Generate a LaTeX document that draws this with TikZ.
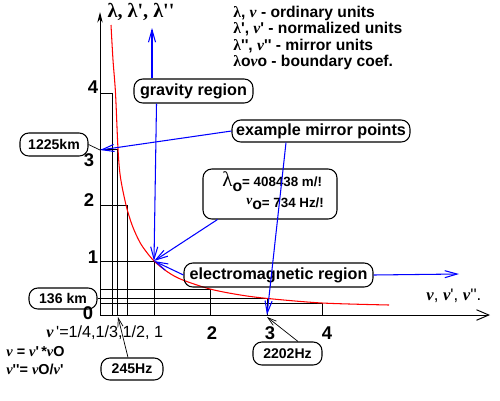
\documentclass[tikz,border=0pt]{standalone}
\usepackage{fontspec}
\setmainfont{Liberation Sans}[Ligatures=TeXOff]
\newfontfamily\grf{Liberation Serif}[Ligatures=TeXOff]
\usetikzlibrary{arrows.meta}
\newcommand\fs[1]{\fontsize{#1}{#1}\selectfont}
\newcommand\lm{{\grf λ}}
\newcommand\nv{{\grf\bfseries\itshape ν}}
\begin{document}
\begin{tikzpicture}[x=0.02cm,y=-0.02cm,
  bx/.style={draw, rounded corners=5pt, line width=0.6pt, inner sep=0pt, font=\bfseries\fs{9.2}},
  sbx/.style={bx, font=\bfseries\fs{8}},
  ln/.style={line width=0.55pt},
  barr/.style={blue, line width=0.6pt, -{Straight Barb[length=7pt,width=4pt]}},
  karr/.style={black, line width=0.4pt, -{Straight Barb[length=5pt,width=3pt]}},
  tk/.style={font=\bfseries\fs{10.5}},
  lg/.style={anchor=west, font=\bfseries\fs{8.9}, inner sep=0pt},
]
\useasboundingbox (0,0) rectangle (500,400);
% key points
\coordinate (O) at (100,315);
\coordinate (P1) at (154,261);
\coordinate (M1) at (100,150);
\coordinate (M2) at (267,315);
\coordinate (Gt) at (152,28);
\coordinate (Et) at (459,274);
\coordinate (Yt) at (100,12);
\coordinate (Xt) at (490,315);
\coordinate (T245) at (118,317);
\coordinate (T2202) at (267,317);
% grid rectangles under 1/x
\foreach \X/\Y in {112/93, 117/149, 127/205, 154/261, 210/289, 267/298.3, 322/303.3}
  \draw[ln] (100,\Y) -| (\X,315);
% red curve
\draw[red, line width=0.6pt] plot[smooth] coordinates {(111,25) (113,60) (115.5,93) (118,149)
  (120.4,177) (126,205) (131.6,223.7) (137.2,237) (142.8,247) (154,261) (168,272.2)
  (182,279.7) (210,289) (238,294.6) (266,298.3) (322,303) (389,305)};
% axes
\draw[ln, -{Stealth[length=6pt,width=3pt]}] (O) -- (Yt);
\draw[ln, -{Straight Barb[length=7pt,width=6pt]}] (O) -- (Xt);
% tick labels
\node[tk] (y4) at (93,87) {4};
\node[tk] (y3) at (89,160) {3};
\node[tk] (y2) at (89,200) {2};
\node[tk] (y1) at (93,257) {1};
\node[tk] (y0) at (88,313) {0};
\node[tk] (x2) at (212,333) {2};
\node[tk] (x3) at (270,333) {3};
\node[tk] (x4) at (327,333) {4};
\node[anchor=west, font=\fs{9.2}, inner sep=0pt] (xl) at (46,333) {\nv\,'=1/4,1/3,1/2, 1};
\node[anchor=west, font=\bfseries\fs{8.2}, inner sep=0pt] (f1) at (6,352) {\nv\ = \nv'\,*\nv O};
\node[anchor=west, font=\bfseries\fs{8.2}, inner sep=0pt] (f2) at (6,369) {\nv''= \nv O/\nv'};
% axis titles
\node[font=\bfseries\fs{11.5}, inner sep=0pt] (ylab) at (141,12) {\grf λ, λ', λ''};
\node[anchor=west, font=\fs{9.5}, inner sep=0pt] (xlab) at (426,296) {\nv, \nv', \nv''.};
% legend
\node[lg] (lg1) at (233,13) {\lm, \nv\ - ordinary units};
\node[lg] (lg2) at (233,29.5) {\lm', \nv' - normalized units};
\node[lg] (lg3) at (233,46) {\lm'', \nv'' - mirror units};
\node[lg] (lg4) at (233,62.5) {\lm o\nv o - boundary coef.};
% boxes
\node[bx, minimum width=2.38cm, minimum height=0.48cm] (grav) at (193.5,91) {gravity region};
\node[bx, minimum width=3.56cm, minimum height=0.44cm] (mir) at (321,131) {example mirror points};
\node[sbx, minimum width=1.36cm, minimum height=0.46cm] (k1225) at (54,144.5) {1225km};
\node[bx, minimum width=2.68cm, minimum height=1.0cm] (lam) at (270,194) {};
\node[anchor=west, font=\bfseries\fs{7.6}, inner sep=0pt] (lt1) at (222,182) {{\grf\mdseries\fs{12}λ}\raisebox{-3pt}{\fs{9}o}= 408438 m/!};
\node[anchor=west, font=\bfseries\fs{7.6}, inner sep=0pt] (lt2) at (246,204) {\raisebox{2pt}{\fs{7.6}\nv}\raisebox{-1pt}{\fs{9}o}= 734 Hz/!};
\node[bx, minimum width=3.78cm, minimum height=0.48cm] (em) at (278.5,275) {electromagnetic region};
\node[sbx, minimum width=1.36cm, minimum height=0.42cm] (k136) at (63,298.5) {136 km};
\node[sbx, minimum width=1.24cm, minimum height=0.44cm] (h245) at (132,369) {245Hz};
\node[sbx, minimum width=1.38cm, minimum height=0.46cm] (h2202) at (287.5,353.5) {2202Hz};
% blue connectors
\draw[barr] (grav.north -| Gt) -- (Gt);
\draw[barr] ([xshift=-0.74cm]grav.south) -- (P1);
\draw[barr] (mir.west) -- (M1);
\draw[barr] ([xshift=-0.7cm]mir.south) -- (M2);
\draw[barr] ([xshift=0.3cm]lam.south west) -- (P1);
\draw[barr] (em.west) -- (P1);
\draw[barr] (em.east) -- (Et);
% black connectors
\draw[line width=0.4pt] (k1225.east) -- (M1);
\draw[line width=0.4pt] (k136.east) -- (k136.east -| O);
\draw[karr] ([xshift=-0.08cm]h245.north) -- (T245);
\draw[karr] ([xshift=0.21cm]h2202.north) -- (T2202);
\end{tikzpicture}
\end{document}
